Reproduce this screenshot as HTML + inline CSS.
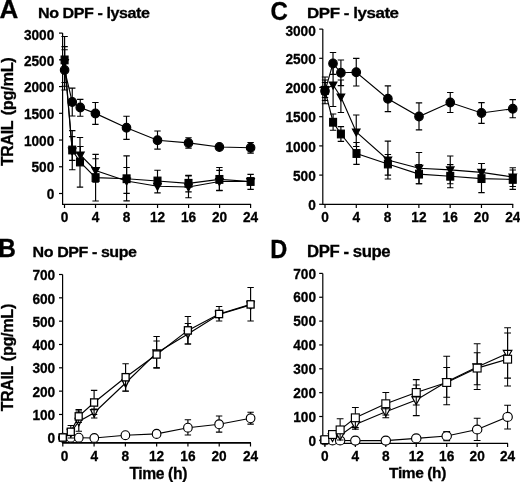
<!DOCTYPE html>
<html lang="en">
<head>
<meta charset="utf-8">
<title>TRAIL time course</title>
<style>
html,body{margin:0;padding:0;background:#fff;}
body{width:520px;height:482px;overflow:hidden;}
svg{display:block;font-family:"Liberation Sans", sans-serif;font-weight:bold;}
</style>
</head>
<body>
<svg width="520" height="482" viewBox="0 0 520 482" fill="#000">
<rect x="0" y="0" width="520" height="482" fill="#fff"/>
<defs><filter id="soft" x="-2%" y="-2%" width="104%" height="104%"><feGaussianBlur stdDeviation="0.45"/></filter></defs>
<g stroke="#000" stroke-width="1.15" fill="none" filter="url(#soft)">
<g id="panel-A">
<path d="M62.6 33V204.3H251.1" stroke-width="1.2"/>
<path d="M59 193.5L62.6 193.5" stroke-width="1.2"/>
<text transform="translate(54.3 198.86) scale(0.95 1)" font-size="14.4" text-anchor="end" fill="#000" stroke-width="0.3">0</text>
<path d="M59 166.77L62.6 166.77" stroke-width="1.2"/>
<text transform="translate(54.3 172.46) scale(0.95 1)" font-size="14.4" text-anchor="end" fill="#000" stroke-width="0.3">500</text>
<path d="M59 140.03L62.6 140.03" stroke-width="1.2"/>
<text transform="translate(54.3 145.56) scale(0.95 1)" font-size="14.4" text-anchor="end" fill="#000" stroke-width="0.3">1000</text>
<path d="M59 113.3L62.6 113.3" stroke-width="1.2"/>
<text transform="translate(54.3 118.86) scale(0.95 1)" font-size="14.4" text-anchor="end" fill="#000" stroke-width="0.3">1500</text>
<path d="M59 86.57L62.6 86.57" stroke-width="1.2"/>
<text transform="translate(54.3 92.16) scale(0.95 1)" font-size="14.4" text-anchor="end" fill="#000" stroke-width="0.3">2000</text>
<path d="M59 59.83L62.6 59.83" stroke-width="1.2"/>
<text transform="translate(54.3 65.76) scale(0.95 1)" font-size="14.4" text-anchor="end" fill="#000" stroke-width="0.3">2500</text>
<path d="M59 33.1L62.6 33.1" stroke-width="1.2"/>
<text transform="translate(54.3 40.06) scale(0.95 1)" font-size="14.4" text-anchor="end" fill="#000" stroke-width="0.3">3000</text>
<path d="M64.5 204.3L64.5 208" stroke-width="1.2"/>
<text transform="translate(64.5 221.8) scale(0.95 1)" font-size="14.4" text-anchor="middle" fill="#000" stroke-width="0.3">0</text>
<path d="M95.52 204.3L95.52 208" stroke-width="1.2"/>
<text transform="translate(95.52 221.8) scale(0.95 1)" font-size="14.4" text-anchor="middle" fill="#000" stroke-width="0.3">4</text>
<path d="M126.53 204.3L126.53 208" stroke-width="1.2"/>
<text transform="translate(126.53 221.8) scale(0.95 1)" font-size="14.4" text-anchor="middle" fill="#000" stroke-width="0.3">8</text>
<path d="M157.55 204.3L157.55 208" stroke-width="1.2"/>
<text transform="translate(157.55 221.8) scale(0.95 1)" font-size="14.4" text-anchor="middle" fill="#000" stroke-width="0.3">12</text>
<path d="M188.57 204.3L188.57 208" stroke-width="1.2"/>
<text transform="translate(188.57 221.8) scale(0.95 1)" font-size="14.4" text-anchor="middle" fill="#000" stroke-width="0.3">16</text>
<path d="M219.58 204.3L219.58 208" stroke-width="1.2"/>
<text transform="translate(219.58 221.8) scale(0.95 1)" font-size="14.4" text-anchor="middle" fill="#000" stroke-width="0.3">20</text>
<path d="M250.6 204.3L250.6 208" stroke-width="1.2"/>
<text transform="translate(250.6 221.8) scale(0.95 1)" font-size="14.4" text-anchor="middle" fill="#000" stroke-width="0.3">24</text>
<text transform="translate(-0.5 17.6) scale(1 1)" font-size="26" fill="#000" stroke-width="0.3">A</text>
<text transform="translate(38 18) scale(1.08 1)" font-size="14.9" letter-spacing="-0.4" fill="#000" stroke-width="0.3">No DPF - lysate</text>
<text transform="translate(13.4 166.06) scale(1.05 1) rotate(-90)" letter-spacing="-0.3" fill="#000" stroke-width="0.3"><tspan font-size="15.9">TRAIL</tspan><tspan font-size="16.35" dx="1.22"> (pg/mL)</tspan></text>
<path d="M64.6 49.75V90M61.4 49.75H67.8M61.4 90H67.8" stroke-width="1.15"/>
<path d="M72.25 88.1V116M69.05 88.1H75.45M69.05 116H75.45" stroke-width="1.15"/>
<path d="M80.25 99.4V116.25M77.05 99.4H83.45M77.05 116.25H83.45" stroke-width="1.15"/>
<path d="M95.4 102.5V124.4M92.2 102.5H98.6M92.2 124.4H98.6" stroke-width="1.15"/>
<path d="M126.5 116.25V139.4M123.3 116.25H129.7M123.3 139.4H129.7" stroke-width="1.15"/>
<path d="M157.5 131V149.1M154.3 131H160.7M154.3 149.1H160.7" stroke-width="1.15"/>
<path d="M188.5 137.75V148.1M185.3 137.75H191.7M185.3 148.1H191.7" stroke-width="1.15"/>
<path d="M250.6 142.5V153.1M247.4 142.5H253.8M247.4 153.1H253.8" stroke-width="1.15"/>
<path d="M64.6 70L72.25 102L80.25 107.5L95.4 113.4L126.5 127.75L157.5 140.25L188.5 142.9L219.4 147L250.6 147.75" stroke-width="1.15"/>
<ellipse cx="64.6" cy="70" rx="4.25" ry="4.4" fill="#000"/>
<ellipse cx="72.25" cy="102" rx="4.25" ry="4.4" fill="#000"/>
<ellipse cx="80.25" cy="107.5" rx="4.25" ry="4.4" fill="#000"/>
<ellipse cx="95.4" cy="113.4" rx="4.25" ry="4.4" fill="#000"/>
<ellipse cx="126.5" cy="127.75" rx="4.25" ry="4.4" fill="#000"/>
<ellipse cx="157.5" cy="140.25" rx="4.25" ry="4.4" fill="#000"/>
<ellipse cx="188.5" cy="142.9" rx="4.25" ry="4.4" fill="#000"/>
<ellipse cx="219.4" cy="147" rx="4.25" ry="4.4" fill="#000"/>
<ellipse cx="250.6" cy="147.75" rx="4.25" ry="4.4" fill="#000"/>
<path d="M64.6 46.6V86.25M61.4 46.6H67.8M61.4 86.25H67.8" stroke-width="1.15"/>
<path d="M72.25 136.6V160.4M69.05 136.6H75.45M69.05 160.4H75.45" stroke-width="1.15"/>
<path d="M80.4 146.5V163.5M77.2 146.5H83.6M77.2 163.5H83.6" stroke-width="1.15"/>
<path d="M95.6 158.75V182.25M92.4 158.75H98.8M92.4 182.25H98.8" stroke-width="1.15"/>
<path d="M126.6 167.5V193.4M123.4 167.5H129.8M123.4 193.4H129.8" stroke-width="1.15"/>
<path d="M188.5 175.8V197.75M185.3 175.8H191.7M185.3 197.75H191.7" stroke-width="1.15"/>
<path d="M219.4 170.4V190.6M216.2 170.4H222.6M216.2 190.6H222.6" stroke-width="1.15"/>
<path d="M64.6 62.5L72.25 151L80.4 155L95.6 170.5L126.6 181L157.5 186.3L188.5 187L219.4 181.5L250.6 181.5" stroke-width="1.15"/>
<path d="M60.8 59.5H68.4L64.6 66.6Z" fill="#000"/>
<path d="M68.45 148H76.05L72.25 155.1Z" fill="#000"/>
<path d="M76.6 152H84.2L80.4 159.1Z" fill="#000"/>
<path d="M91.8 167.5H99.4L95.6 174.6Z" fill="#000"/>
<path d="M122.8 178H130.4L126.6 185.1Z" fill="#000"/>
<path d="M153.7 183.3H161.3L157.5 190.4Z" fill="#000"/>
<path d="M184.7 184H192.3L188.5 191.1Z" fill="#000"/>
<path d="M215.6 178.5H223.2L219.4 185.6Z" fill="#000"/>
<path d="M246.8 178.5H254.4L250.6 185.6Z" fill="#000"/>
<path d="M64.6 36.5V82.5M61.4 36.5H67.8M61.4 82.5H67.8" stroke-width="1.15"/>
<path d="M72.25 130.6V169.75M69.05 130.6H75.45M69.05 169.75H75.45" stroke-width="1.15"/>
<path d="M80 137.5V187.1M76.8 137.5H83.2M76.8 187.1H83.2" stroke-width="1.15"/>
<path d="M95.6 154.4V201M92.4 154.4H98.8M92.4 201H98.8" stroke-width="1.15"/>
<path d="M126.6 155.9V200.9M123.4 155.9H129.8M123.4 200.9H129.8" stroke-width="1.15"/>
<path d="M157.5 170.25V192.9M154.3 170.25H160.7M154.3 192.9H160.7" stroke-width="1.15"/>
<path d="M188.5 175.4V191.9M185.3 175.4H191.7M185.3 191.9H191.7" stroke-width="1.15"/>
<path d="M219.4 167.5V190.4M216.2 167.5H222.6M216.2 190.4H222.6" stroke-width="1.15"/>
<path d="M250.6 174.4V189.4M247.4 174.4H253.8M247.4 189.4H253.8" stroke-width="1.15"/>
<path d="M64.6 59.9L72.25 150L80 162L95.6 177.6L126.6 178.75L157.5 181L188.5 183.3L219.4 179.4L250.6 181.5" stroke-width="1.15"/>
<rect x="61.15" y="56.05" width="6.9" height="7.7" fill="#000"/>
<rect x="68.8" y="146.15" width="6.9" height="7.7" fill="#000"/>
<rect x="76.55" y="158.15" width="6.9" height="7.7" fill="#000"/>
<rect x="92.15" y="173.75" width="6.9" height="7.7" fill="#000"/>
<rect x="123.15" y="174.9" width="6.9" height="7.7" fill="#000"/>
<rect x="154.05" y="177.15" width="6.9" height="7.7" fill="#000"/>
<rect x="185.05" y="179.45" width="6.9" height="7.7" fill="#000"/>
<rect x="215.95" y="175.55" width="6.9" height="7.7" fill="#000"/>
<rect x="247.15" y="177.65" width="6.9" height="7.7" fill="#000"/>
</g>
<g id="panel-C">
<path d="M322.8 29.1V204.3H513.25" stroke-width="1.2"/>
<path d="M319.2 204.3L322.8 204.3" stroke-width="1.2"/>
<text transform="translate(315.8 210.06) scale(0.95 1)" font-size="14.4" text-anchor="end" fill="#000" stroke-width="0.3">0</text>
<path d="M319.2 175.1L322.8 175.1" stroke-width="1.2"/>
<text transform="translate(315.8 180.86) scale(0.95 1)" font-size="14.4" text-anchor="end" fill="#000" stroke-width="0.3">500</text>
<path d="M319.2 145.9L322.8 145.9" stroke-width="1.2"/>
<text transform="translate(315.8 151.66) scale(0.95 1)" font-size="14.4" text-anchor="end" fill="#000" stroke-width="0.3">1000</text>
<path d="M319.2 116.7L322.8 116.7" stroke-width="1.2"/>
<text transform="translate(315.8 122.46) scale(0.95 1)" font-size="14.4" text-anchor="end" fill="#000" stroke-width="0.3">1500</text>
<path d="M319.2 87.5L322.8 87.5" stroke-width="1.2"/>
<text transform="translate(315.8 93.26) scale(0.95 1)" font-size="14.4" text-anchor="end" fill="#000" stroke-width="0.3">2000</text>
<path d="M319.2 58.3L322.8 58.3" stroke-width="1.2"/>
<text transform="translate(315.8 64.06) scale(0.95 1)" font-size="14.4" text-anchor="end" fill="#000" stroke-width="0.3">2500</text>
<path d="M319.2 29.1L322.8 29.1" stroke-width="1.2"/>
<text transform="translate(315.8 35.86) scale(0.95 1)" font-size="14.4" text-anchor="end" fill="#000" stroke-width="0.3">3000</text>
<path d="M325 204.3L325 208" stroke-width="1.2"/>
<text transform="translate(325 221.8) scale(0.95 1)" font-size="14.4" text-anchor="middle" fill="#000" stroke-width="0.3">0</text>
<path d="M356.29 204.3L356.29 208" stroke-width="1.2"/>
<text transform="translate(356.29 221.8) scale(0.95 1)" font-size="14.4" text-anchor="middle" fill="#000" stroke-width="0.3">4</text>
<path d="M387.58 204.3L387.58 208" stroke-width="1.2"/>
<text transform="translate(387.58 221.8) scale(0.95 1)" font-size="14.4" text-anchor="middle" fill="#000" stroke-width="0.3">8</text>
<path d="M418.88 204.3L418.88 208" stroke-width="1.2"/>
<text transform="translate(418.88 221.8) scale(0.95 1)" font-size="14.4" text-anchor="middle" fill="#000" stroke-width="0.3">12</text>
<path d="M450.17 204.3L450.17 208" stroke-width="1.2"/>
<text transform="translate(450.17 221.8) scale(0.95 1)" font-size="14.4" text-anchor="middle" fill="#000" stroke-width="0.3">16</text>
<path d="M481.46 204.3L481.46 208" stroke-width="1.2"/>
<text transform="translate(481.46 221.8) scale(0.95 1)" font-size="14.4" text-anchor="middle" fill="#000" stroke-width="0.3">20</text>
<path d="M512.75 204.3L512.75 208" stroke-width="1.2"/>
<text transform="translate(512.75 221.8) scale(0.95 1)" font-size="14.4" text-anchor="middle" fill="#000" stroke-width="0.3">24</text>
<text transform="translate(270.5 19.5) scale(0.94 1)" font-size="25.5" fill="#000" stroke-width="0.3">C</text>
<text transform="translate(307 18) scale(1.1 1)" font-size="15.4" letter-spacing="-0.4" fill="#000" stroke-width="0.3">DPF - lysate</text>
<path d="M325 77V103.75M321.8 77H328.2M321.8 103.75H328.2" stroke-width="1.15"/>
<path d="M333 52.5V74.3M329.8 52.5H336.2M329.8 74.3H336.2" stroke-width="1.15"/>
<path d="M340.9 60V85.6M337.7 60H344.1M337.7 85.6H344.1" stroke-width="1.15"/>
<path d="M356.25 58.4V86M353.05 58.4H359.45M353.05 86H359.45" stroke-width="1.15"/>
<path d="M387.9 85.9V111.6M384.7 85.9H391.1M384.7 111.6H391.1" stroke-width="1.15"/>
<path d="M419 102.9V129.8M415.8 102.9H422.2M415.8 129.8H422.2" stroke-width="1.15"/>
<path d="M450.25 92.5V112.5M447.05 92.5H453.45M447.05 112.5H453.45" stroke-width="1.15"/>
<path d="M481.5 102.6V123.3M478.3 102.6H484.7M478.3 123.3H484.7" stroke-width="1.15"/>
<path d="M512.75 99.6V117.75M509.55 99.6H515.95M509.55 117.75H515.95" stroke-width="1.15"/>
<path d="M325 91.1L333 63.4L340.9 72.75L356.25 72.25L387.9 98.75L419 116.5L450.25 102.5L481.5 113L512.75 108.75" stroke-width="1.15"/>
<ellipse cx="325" cy="91.1" rx="4.25" ry="4.4" fill="#000"/>
<ellipse cx="333" cy="63.4" rx="4.25" ry="4.4" fill="#000"/>
<ellipse cx="340.9" cy="72.75" rx="4.25" ry="4.4" fill="#000"/>
<ellipse cx="356.25" cy="72.25" rx="4.25" ry="4.4" fill="#000"/>
<ellipse cx="387.9" cy="98.75" rx="4.25" ry="4.4" fill="#000"/>
<ellipse cx="419" cy="116.5" rx="4.25" ry="4.4" fill="#000"/>
<ellipse cx="450.25" cy="102.5" rx="4.25" ry="4.4" fill="#000"/>
<ellipse cx="481.5" cy="113" rx="4.25" ry="4.4" fill="#000"/>
<ellipse cx="512.75" cy="108.75" rx="4.25" ry="4.4" fill="#000"/>
<path d="M325 82.5V97.5M321.8 82.5H328.2M321.8 97.5H328.2" stroke-width="1.15"/>
<path d="M333.1 63V106.5M329.9 63H336.3M329.9 106.5H336.3" stroke-width="1.15"/>
<path d="M340.9 80V112.5M337.7 80H344.1M337.7 112.5H344.1" stroke-width="1.15"/>
<path d="M356.25 115V146.5M353.05 115H359.45M353.05 146.5H359.45" stroke-width="1.15"/>
<path d="M387.9 141.1V179M384.7 141.1H391.1M384.7 179H391.1" stroke-width="1.15"/>
<path d="M419 152.5V183.75M415.8 152.5H422.2M415.8 183.75H422.2" stroke-width="1.15"/>
<path d="M450.25 156V183.75M447.05 156H453.45M447.05 183.75H453.45" stroke-width="1.15"/>
<path d="M481.5 163.5V180M478.3 163.5H484.7M478.3 180H484.7" stroke-width="1.15"/>
<path d="M512.75 167.75V186.5M509.55 167.75H515.95M509.55 186.5H515.95" stroke-width="1.15"/>
<path d="M325 89.6L333.1 85L340.9 97L356.25 132L387.9 160L419 168.2L450.25 169.9L481.5 172.4L512.75 177" stroke-width="1.15"/>
<path d="M321.2 86.6H328.8L325 93.7Z" fill="#000"/>
<path d="M329.3 82H336.9L333.1 89.1Z" fill="#000"/>
<path d="M337.1 94H344.7L340.9 101.1Z" fill="#000"/>
<path d="M352.45 129H360.05L356.25 136.1Z" fill="#000"/>
<path d="M384.1 157H391.7L387.9 164.1Z" fill="#000"/>
<path d="M415.2 165.2H422.8L419 172.3Z" fill="#000"/>
<path d="M446.45 166.9H454.05L450.25 174Z" fill="#000"/>
<path d="M477.7 169.4H485.3L481.5 176.5Z" fill="#000"/>
<path d="M508.95 174H516.55L512.75 181.1Z" fill="#000"/>
<path d="M325 80V100.5M321.8 80H328.2M321.8 100.5H328.2" stroke-width="1.15"/>
<path d="M333.1 114V130.25M329.9 114H336.3M329.9 130.25H336.3" stroke-width="1.15"/>
<path d="M340.9 126.6V141.4M337.7 126.6H344.1M337.7 141.4H344.1" stroke-width="1.15"/>
<path d="M356.5 142.5V164.4M353.3 142.5H359.7M353.3 164.4H359.7" stroke-width="1.15"/>
<path d="M387.9 154.5V175.1M384.7 154.5H391.1M384.7 175.1H391.1" stroke-width="1.15"/>
<path d="M419 164.5V183.75M415.8 164.5H422.2M415.8 183.75H422.2" stroke-width="1.15"/>
<path d="M450.25 164.6V187.75M447.05 164.6H453.45M447.05 187.75H453.45" stroke-width="1.15"/>
<path d="M481.5 163.5V192.6M478.3 163.5H484.7M478.3 192.6H484.7" stroke-width="1.15"/>
<path d="M512.75 170V189.4M509.55 170H515.95M509.55 189.4H515.95" stroke-width="1.15"/>
<path d="M325 90.3L333.1 122.25L340.9 134L356.5 153.5L387.9 164L419 174.1L450.25 176.25L481.5 178.6L512.75 179.4" stroke-width="1.15"/>
<rect x="321.55" y="86.45" width="6.9" height="7.7" fill="#000"/>
<rect x="329.65" y="118.4" width="6.9" height="7.7" fill="#000"/>
<rect x="337.45" y="130.15" width="6.9" height="7.7" fill="#000"/>
<rect x="353.05" y="149.65" width="6.9" height="7.7" fill="#000"/>
<rect x="384.45" y="160.15" width="6.9" height="7.7" fill="#000"/>
<rect x="415.55" y="170.25" width="6.9" height="7.7" fill="#000"/>
<rect x="446.8" y="172.4" width="6.9" height="7.7" fill="#000"/>
<rect x="478.05" y="174.75" width="6.9" height="7.7" fill="#000"/>
<rect x="509.3" y="175.55" width="6.9" height="7.7" fill="#000"/>
</g>
<g id="panel-B">
<path d="M62.6 274.5V442.8H251" stroke-width="1.2"/>
<path d="M62.6 442.8H251" stroke-width="1.5"/>
<path d="M59 437.8L62.6 437.8" stroke-width="1.2"/>
<text transform="translate(55.2 443.26) scale(0.95 1)" font-size="14.4" text-anchor="end" fill="#000" stroke-width="0.3">0</text>
<path d="M59 414.47L62.6 414.47" stroke-width="1.2"/>
<text transform="translate(55.2 420.16) scale(0.95 1)" font-size="14.4" text-anchor="end" fill="#000" stroke-width="0.3">100</text>
<path d="M59 391.14L62.6 391.14" stroke-width="1.2"/>
<text transform="translate(55.2 396.86) scale(0.95 1)" font-size="14.4" text-anchor="end" fill="#000" stroke-width="0.3">200</text>
<path d="M59 367.81L62.6 367.81" stroke-width="1.2"/>
<text transform="translate(55.2 373.36) scale(0.95 1)" font-size="14.4" text-anchor="end" fill="#000" stroke-width="0.3">300</text>
<path d="M59 344.49L62.6 344.49" stroke-width="1.2"/>
<text transform="translate(55.2 349.96) scale(0.95 1)" font-size="14.4" text-anchor="end" fill="#000" stroke-width="0.3">400</text>
<path d="M59 321.16L62.6 321.16" stroke-width="1.2"/>
<text transform="translate(55.2 326.76) scale(0.95 1)" font-size="14.4" text-anchor="end" fill="#000" stroke-width="0.3">500</text>
<path d="M59 297.83L62.6 297.83" stroke-width="1.2"/>
<text transform="translate(55.2 303.56) scale(0.95 1)" font-size="14.4" text-anchor="end" fill="#000" stroke-width="0.3">600</text>
<path d="M59 274.5L62.6 274.5" stroke-width="1.2"/>
<text transform="translate(55.2 280.36) scale(0.95 1)" font-size="14.4" text-anchor="end" fill="#000" stroke-width="0.3">700</text>
<path d="M62.8 442.8L62.8 446.5" stroke-width="1.2"/>
<text transform="translate(64.5 460.5) scale(0.95 1)" font-size="14.4" text-anchor="middle" fill="#000" stroke-width="0.3">0</text>
<path d="M94.08 442.8L94.08 446.5" stroke-width="1.2"/>
<text transform="translate(94.2 460.5) scale(0.95 1)" font-size="14.4" text-anchor="middle" fill="#000" stroke-width="0.3">4</text>
<path d="M125.37 442.8L125.37 446.5" stroke-width="1.2"/>
<text transform="translate(125.4 460.5) scale(0.95 1)" font-size="14.4" text-anchor="middle" fill="#000" stroke-width="0.3">8</text>
<path d="M156.65 442.8L156.65 446.5" stroke-width="1.2"/>
<text transform="translate(156.6 460.5) scale(0.95 1)" font-size="14.4" text-anchor="middle" fill="#000" stroke-width="0.3">12</text>
<path d="M187.93 442.8L187.93 446.5" stroke-width="1.2"/>
<text transform="translate(187.9 460.5) scale(0.95 1)" font-size="14.4" text-anchor="middle" fill="#000" stroke-width="0.3">16</text>
<path d="M219.22 442.8L219.22 446.5" stroke-width="1.2"/>
<text transform="translate(219.1 460.5) scale(0.95 1)" font-size="14.4" text-anchor="middle" fill="#000" stroke-width="0.3">20</text>
<path d="M250.5 442.8L250.5 446.5" stroke-width="1.2"/>
<text transform="translate(250.6 460.5) scale(0.95 1)" font-size="14.4" text-anchor="middle" fill="#000" stroke-width="0.3">24</text>
<text transform="translate(-1.8 257.3) scale(0.98 1)" font-size="24.9" fill="#000" stroke-width="0.3">B</text>
<text transform="translate(32.6 257) scale(1.07 1)" font-size="15" letter-spacing="-0.4" fill="#000" stroke-width="0.3">No DPF - supe</text>
<text transform="translate(13.1 411.2) scale(1.05 1) rotate(-90)" letter-spacing="-0.3" fill="#000" stroke-width="0.3"><tspan font-size="15.85">TRAIL</tspan><tspan font-size="16.2" dx="0.64"> (pg/mL)</tspan></text>
<text transform="translate(158.2 478.5) scale(1 1)" font-size="15.7" text-anchor="middle" letter-spacing="-0.4" fill="#000" stroke-width="0.3">Time (h)</text>
<path d="M187.9 419.75V435M184.7 419.75H191.1M184.7 435H191.1" stroke-width="1.15"/>
<path d="M219.1 416V432.1M215.9 416H222.3M215.9 432.1H222.3" stroke-width="1.15"/>
<path d="M250.6 412.25V424.1M247.4 412.25H253.8M247.4 424.1H253.8" stroke-width="1.15"/>
<path d="M62.8 437.7L70.8 437.7L78.8 437.7L94.3 438L125.4 435.2L156.6 433.9L187.9 427.7L219.1 424.3L250.6 418.3" stroke-width="1.15"/>
<ellipse cx="62.8" cy="437.7" rx="4.3" ry="4.45" fill="#fff" stroke-width="1.15"/>
<ellipse cx="70.8" cy="437.7" rx="4.3" ry="4.45" fill="#fff" stroke-width="1.15"/>
<ellipse cx="78.8" cy="437.7" rx="4.3" ry="4.45" fill="#fff" stroke-width="1.15"/>
<ellipse cx="94.3" cy="438" rx="4.3" ry="4.45" fill="#fff" stroke-width="1.15"/>
<ellipse cx="125.4" cy="435.2" rx="4.3" ry="4.45" fill="#fff" stroke-width="1.15"/>
<ellipse cx="156.6" cy="433.9" rx="4.3" ry="4.45" fill="#fff" stroke-width="1.15"/>
<ellipse cx="187.9" cy="427.7" rx="4.3" ry="4.45" fill="#fff" stroke-width="1.15"/>
<ellipse cx="219.1" cy="424.3" rx="4.3" ry="4.45" fill="#fff" stroke-width="1.15"/>
<ellipse cx="250.6" cy="418.3" rx="4.3" ry="4.45" fill="#fff" stroke-width="1.15"/>
<path d="M78.8 411V431.2M75.6 411H82M75.6 431.2H82" stroke-width="1.15"/>
<path d="M94.2 409V418M91 409H97.4M91 418H97.4" stroke-width="1.15"/>
<path d="M125.6 375V391.25M122.4 375H128.8M122.4 391.25H128.8" stroke-width="1.15"/>
<path d="M156.6 336.5V367.9M153.4 336.5H159.8M153.4 367.9H159.8" stroke-width="1.15"/>
<path d="M187.9 323.5V344M184.7 323.5H191.1M184.7 344H191.1" stroke-width="1.15"/>
<path d="M62.8 437.5L70.8 432.5L78.8 421.5L94.2 412.7L125.6 383L156.6 352.9L187.9 334L219.1 314.5L250.6 304.9" stroke-width="1.15"/>
<path d="M59.2 434.5H66.4L62.8 441.8Z" fill="#fff" stroke-width="1.3"/>
<path d="M67.2 429.5H74.4L70.8 436.8Z" fill="#fff" stroke-width="1.3"/>
<path d="M75.2 418.5H82.4L78.8 425.8Z" fill="#fff" stroke-width="1.3"/>
<path d="M90.6 409.7H97.8L94.2 417Z" fill="#fff" stroke-width="1.3"/>
<path d="M122 380H129.2L125.6 387.3Z" fill="#fff" stroke-width="1.3"/>
<path d="M153 349.9H160.2L156.6 357.2Z" fill="#fff" stroke-width="1.3"/>
<path d="M184.3 331H191.5L187.9 338.3Z" fill="#fff" stroke-width="1.3"/>
<path d="M215.5 311.5H222.7L219.1 318.8Z" fill="#fff" stroke-width="1.3"/>
<path d="M247 301.9H254.2L250.6 309.2Z" fill="#fff" stroke-width="1.3"/>
<path d="M70.8 425.5V438M67.6 425.5H74M67.6 438H74" stroke-width="1.15"/>
<path d="M78.7 409.6V422.5M75.5 409.6H81.9M75.5 422.5H81.9" stroke-width="1.15"/>
<path d="M94.1 390.4V414.5M90.9 390.4H97.3M90.9 414.5H97.3" stroke-width="1.15"/>
<path d="M125.6 363.75V391M122.4 363.75H128.8M122.4 391H128.8" stroke-width="1.15"/>
<path d="M156.6 341V367.9M153.4 341H159.8M153.4 367.9H159.8" stroke-width="1.15"/>
<path d="M187.9 316.5V344M184.7 316.5H191.1M184.7 344H191.1" stroke-width="1.15"/>
<path d="M219.1 306.5V321M215.9 306.5H222.3M215.9 321H222.3" stroke-width="1.15"/>
<path d="M250.6 287.5V321M247.4 287.5H253.8M247.4 321H253.8" stroke-width="1.15"/>
<path d="M62.8 437.5L70.8 431.8L78.7 416.4L94.1 402.5L125.6 377.25L156.6 354.5L187.9 330.4L219.1 314L250.6 304.4" stroke-width="1.15"/>
<rect x="59.3" y="433.85" width="7" height="7.3" fill="#fff" stroke-width="1.3"/>
<rect x="67.3" y="428.15" width="7" height="7.3" fill="#fff" stroke-width="1.3"/>
<rect x="75.2" y="412.75" width="7" height="7.3" fill="#fff" stroke-width="1.3"/>
<rect x="90.6" y="398.85" width="7" height="7.3" fill="#fff" stroke-width="1.3"/>
<rect x="122.1" y="373.6" width="7" height="7.3" fill="#fff" stroke-width="1.3"/>
<rect x="153.1" y="350.85" width="7" height="7.3" fill="#fff" stroke-width="1.3"/>
<rect x="184.4" y="326.75" width="7" height="7.3" fill="#fff" stroke-width="1.3"/>
<rect x="215.6" y="310.35" width="7" height="7.3" fill="#fff" stroke-width="1.3"/>
<rect x="247.1" y="300.75" width="7" height="7.3" fill="#fff" stroke-width="1.3"/>
</g>
<g id="panel-D">
<path d="M322.8 273.4V443.3H507.95" stroke-width="1.2"/>
<path d="M319.2 440.35L322.8 440.35" stroke-width="1.2"/>
<text transform="translate(316 445.51) scale(0.95 1)" font-size="14.4" text-anchor="end" fill="#000" stroke-width="0.3">0</text>
<path d="M319.2 416.5L322.8 416.5" stroke-width="1.2"/>
<text transform="translate(316 421.66) scale(0.95 1)" font-size="14.4" text-anchor="end" fill="#000" stroke-width="0.3">100</text>
<path d="M319.2 392.65L322.8 392.65" stroke-width="1.2"/>
<text transform="translate(316 397.81) scale(0.95 1)" font-size="14.4" text-anchor="end" fill="#000" stroke-width="0.3">200</text>
<path d="M319.2 368.8L322.8 368.8" stroke-width="1.2"/>
<text transform="translate(316 373.96) scale(0.95 1)" font-size="14.4" text-anchor="end" fill="#000" stroke-width="0.3">300</text>
<path d="M319.2 344.95L322.8 344.95" stroke-width="1.2"/>
<text transform="translate(316 350.11) scale(0.95 1)" font-size="14.4" text-anchor="end" fill="#000" stroke-width="0.3">400</text>
<path d="M319.2 321.1L322.8 321.1" stroke-width="1.2"/>
<text transform="translate(316 326.26) scale(0.95 1)" font-size="14.4" text-anchor="end" fill="#000" stroke-width="0.3">500</text>
<path d="M319.2 297.25L322.8 297.25" stroke-width="1.2"/>
<text transform="translate(316 302.41) scale(0.95 1)" font-size="14.4" text-anchor="end" fill="#000" stroke-width="0.3">600</text>
<path d="M319.2 273.4L322.8 273.4" stroke-width="1.2"/>
<text transform="translate(316 278.56) scale(0.95 1)" font-size="14.4" text-anchor="end" fill="#000" stroke-width="0.3">700</text>
<path d="M324.9 443.3L324.9 447" stroke-width="1.2"/>
<text transform="translate(324.9 460.8) scale(0.95 1)" font-size="14.4" text-anchor="middle" fill="#000" stroke-width="0.3">0</text>
<path d="M355.35 443.3L355.35 447" stroke-width="1.2"/>
<text transform="translate(355.35 460.8) scale(0.95 1)" font-size="14.4" text-anchor="middle" fill="#000" stroke-width="0.3">4</text>
<path d="M385.8 443.3L385.8 447" stroke-width="1.2"/>
<text transform="translate(385.8 460.8) scale(0.95 1)" font-size="14.4" text-anchor="middle" fill="#000" stroke-width="0.3">8</text>
<path d="M416.25 443.3L416.25 447" stroke-width="1.2"/>
<text transform="translate(416.25 460.8) scale(0.95 1)" font-size="14.4" text-anchor="middle" fill="#000" stroke-width="0.3">12</text>
<path d="M446.7 443.3L446.7 447" stroke-width="1.2"/>
<text transform="translate(446.7 460.8) scale(0.95 1)" font-size="14.4" text-anchor="middle" fill="#000" stroke-width="0.3">16</text>
<path d="M477.15 443.3L477.15 447" stroke-width="1.2"/>
<text transform="translate(477.15 460.8) scale(0.95 1)" font-size="14.4" text-anchor="middle" fill="#000" stroke-width="0.3">20</text>
<path d="M507.6 443.3L507.6 447" stroke-width="1.2"/>
<text transform="translate(507.6 460.8) scale(0.95 1)" font-size="14.4" text-anchor="middle" fill="#000" stroke-width="0.3">24</text>
<text transform="translate(270.3 257.6) scale(0.93 1)" font-size="25.4" fill="#000" stroke-width="0.3">D</text>
<text transform="translate(307 257.1) scale(1.06 1)" font-size="15.8" letter-spacing="-0.4" fill="#000" stroke-width="0.3">DPF - supe</text>
<text transform="translate(417.5 478.4) scale(1 1)" font-size="15.5" text-anchor="middle" letter-spacing="-0.4" fill="#000" stroke-width="0.3">Time (h)</text>
<path d="M446.7 431.5V440.6M443.3 431.5H450.1M443.3 440.6H450.1" stroke-width="1.05"/>
<path d="M477.15 418.3V440.4M473.75 418.3H480.55M473.75 440.4H480.55" stroke-width="1.05"/>
<path d="M507.6 405.3V428.9M504.2 405.3H511M504.2 428.9H511" stroke-width="1.05"/>
<path d="M324.9 440.5L332.51 440.5L340.12 440.5L355.35 440.6L385.8 440.6L416.25 438.4L446.7 436L477.15 429.5L507.6 416.9" stroke-width="1.1"/>
<ellipse cx="324.9" cy="440.5" rx="4.7" ry="4.45" fill="#fff" stroke-width="1.15"/>
<ellipse cx="332.51" cy="440.5" rx="4.7" ry="4.45" fill="#fff" stroke-width="1.15"/>
<ellipse cx="340.12" cy="440.5" rx="4.7" ry="4.45" fill="#fff" stroke-width="1.15"/>
<ellipse cx="355.35" cy="440.6" rx="4.7" ry="4.45" fill="#fff" stroke-width="1.15"/>
<ellipse cx="385.8" cy="440.6" rx="4.7" ry="4.45" fill="#fff" stroke-width="1.15"/>
<ellipse cx="416.25" cy="438.4" rx="4.7" ry="4.45" fill="#fff" stroke-width="1.15"/>
<ellipse cx="446.7" cy="436" rx="4.7" ry="4.45" fill="#fff" stroke-width="1.15"/>
<ellipse cx="477.15" cy="429.5" rx="4.7" ry="4.45" fill="#fff" stroke-width="1.15"/>
<ellipse cx="507.6" cy="416.9" rx="4.7" ry="4.45" fill="#fff" stroke-width="1.15"/>
<path d="M355.35 419V429.2M351.95 419H358.75M351.95 429.2H358.75" stroke-width="1.05"/>
<path d="M385.8 405V417.75M382.4 405H389.2M382.4 417.75H389.2" stroke-width="1.05"/>
<path d="M416.25 385V415.6M412.85 385H419.65M412.85 415.6H419.65" stroke-width="1.05"/>
<path d="M446.7 367.5V397.25M443.3 367.5H450.1M443.3 397.25H450.1" stroke-width="1.05"/>
<path d="M477.15 352.75V384.75M473.75 352.75H480.55M473.75 384.75H480.55" stroke-width="1.05"/>
<path d="M507.6 327.75V378.1M504.2 327.75H511M504.2 378.1H511" stroke-width="1.05"/>
<path d="M324.9 440L332.51 437L340.12 435.5L355.35 424.6L385.8 411.8L416.25 400L446.7 381.8L477.15 367L507.6 353.4" stroke-width="1.1"/>
<path d="M320.6 436.9H329.2L324.9 444.5Z" fill="#fff" stroke-width="1.15"/>
<path d="M328.21 433.9H336.81L332.51 441.5Z" fill="#fff" stroke-width="1.15"/>
<path d="M335.82 432.4H344.43L340.12 440Z" fill="#fff" stroke-width="1.15"/>
<path d="M351.05 421.5H359.65L355.35 429.1Z" fill="#fff" stroke-width="1.15"/>
<path d="M381.5 408.7H390.1L385.8 416.3Z" fill="#fff" stroke-width="1.15"/>
<path d="M411.95 396.9H420.55L416.25 404.5Z" fill="#fff" stroke-width="1.15"/>
<path d="M442.4 378.7H451L446.7 386.3Z" fill="#fff" stroke-width="1.15"/>
<path d="M472.85 363.9H481.45L477.15 371.5Z" fill="#fff" stroke-width="1.15"/>
<path d="M503.3 350.3H511.9L507.6 357.9Z" fill="#fff" stroke-width="1.15"/>
<path d="M340.12 418.8V440M336.73 418.8H343.52M336.73 440H343.52" stroke-width="1.05"/>
<path d="M355.35 407.4V427.6M351.95 407.4H358.75M351.95 427.6H358.75" stroke-width="1.05"/>
<path d="M385.8 392.5V415M382.4 392.5H389.2M382.4 415H389.2" stroke-width="1.05"/>
<path d="M416.25 379.6V405M412.85 379.6H419.65M412.85 405H419.65" stroke-width="1.05"/>
<path d="M446.7 356.25V404.75M443.3 356.25H450.1M443.3 404.75H450.1" stroke-width="1.05"/>
<path d="M477.15 343.75V389.4M473.75 343.75H480.55M473.75 389.4H480.55" stroke-width="1.05"/>
<path d="M507.6 332.9V386M504.2 332.9H511M504.2 386H511" stroke-width="1.05"/>
<path d="M324.9 439.7L332.51 434.5L340.12 429.9L355.35 417.8L385.8 403.75L416.25 392.5L446.7 382.5L477.15 368.1L507.6 359.2" stroke-width="1.1"/>
<rect x="320.95" y="435.8" width="7.9" height="7.8" fill="#fff" stroke-width="1.15"/>
<rect x="328.56" y="430.6" width="7.9" height="7.8" fill="#fff" stroke-width="1.15"/>
<rect x="336.18" y="426" width="7.9" height="7.8" fill="#fff" stroke-width="1.15"/>
<rect x="351.4" y="413.9" width="7.9" height="7.8" fill="#fff" stroke-width="1.15"/>
<rect x="381.85" y="399.85" width="7.9" height="7.8" fill="#fff" stroke-width="1.15"/>
<rect x="412.3" y="388.6" width="7.9" height="7.8" fill="#fff" stroke-width="1.15"/>
<rect x="442.75" y="378.6" width="7.9" height="7.8" fill="#fff" stroke-width="1.15"/>
<rect x="473.2" y="364.2" width="7.9" height="7.8" fill="#fff" stroke-width="1.15"/>
<rect x="503.65" y="355.3" width="7.9" height="7.8" fill="#fff" stroke-width="1.15"/>
</g>
</g>
</svg>
</body>
</html>
